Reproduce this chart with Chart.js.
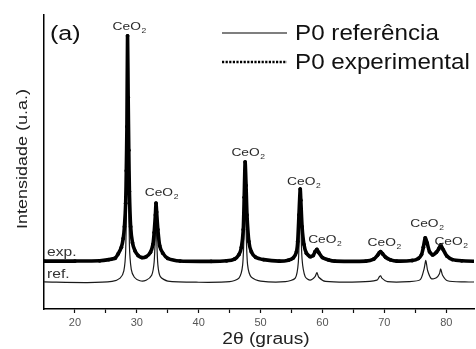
<!DOCTYPE html>
<html><head><meta charset="utf-8">
<script src="https://cdn.jsdelivr.net/npm/chart.js@4/dist/chart.umd.min.js"></script>
<style>html,body{margin:0;padding:0;background:#fff;}canvas{display:block;}</style>
</head><body>
<canvas id="c" width="476" height="349"></canvas>
<script>
// ---- data ----
const expTheta = [15,20,24,25.5,26.5,27,27.5,27.8,28,28.2,28.3,28.4,28.5,28.6,28.7,28.8,29,29.3,29.7,30.2,30.8,31.5,32.2,32.6,32.8,33,33.1,33.2,33.4,33.7,34.2,35,37,42,44.5,45.8,46.5,46.9,47.2,47.35,47.5,47.65,47.8,48.1,48.5,49.2,50.5,53,54.5,55.3,55.8,56,56.2,56.4,56.5,56.7,57,57.4,58,58.5,58.8,59.1,59.4,60,61,62,67,68.3,68.9,69.2,69.4,69.7,70.2,71,72,74.5,75.5,76,76.3,76.6,76.9,77.3,77.8,78.4,78.8,79.1,79.5,80.1,81,82.5,85];
const expInt   = [16.3,16.3,16.4,16.8,17.3,18.8,21,24,28,36,47,62,92.9,72,54,40,28,22.5,19.8,18.2,17.5,17.8,19.3,22,26,32,36,33,27,21.5,19,17.2,16.3,16.2,16.4,17,18.5,21,27,38,50,42,32,23,19.5,17.6,16.8,16.3,16.6,17.4,19.5,23,32,40.8,37,28,22,19,17.8,18.2,19.5,20.3,19.2,17.5,16.7,16.3,16.3,17,18.3,19.2,19.5,18.8,17.6,16.7,16.3,16.5,17.2,18.5,21,24.2,22.5,19.5,18.4,19.3,20.5,21.8,20.2,18,16.8,16.4,16.2];
const refTheta = [15,22,26,27.3,27.9,28.2,28.4,28.5,28.6,28.8,29.1,29.6,30.5,31.5,32.4,32.8,33,33.1,33.2,33.4,33.8,35,40,45,46.5,47.1,47.35,47.5,47.65,47.9,48.5,50,54,55.6,56.1,56.3,56.4,56.5,56.7,57.2,58,58.8,59.1,59.4,60.5,66,68.8,69.2,69.4,69.6,70.5,74,75.8,76.4,76.7,77,77.6,78.4,78.9,79.1,79.4,80.2,83,85];
const refInt   = [9.2,9,9.4,10.5,13,20,50,88,55,22,13.5,10.8,9.6,9.8,11.5,16,26,32,25,15,11,9.5,9.1,9.3,10.5,15,28,45,28,15,10.8,9.5,9.3,10.5,16,30,36,30,17,11,9.8,11,12.4,10.8,9.4,9.2,9.8,11,11.3,10.5,9.3,9.3,10,13.5,16.5,13,10.3,10.6,12,13.6,11.5,9.6,9.2,9.2];
const seriesNames = ['P0 experimental', 'P0 referência'];
const peakTheta = [28.8, 34.0, 48.0, 57.0, 60.4, 70.0, 76.9, 80.8];
const peakLabelInt = [96, 39.5, 53.1, 43.2, 23.5, 22.4, 28.9, 22.8];
const peakPhase = ['CeO','2'];
const majorTicks = [20, 30, 40, 50, 60, 70, 80];
const minorTicks = [25, 35, 45, 55, 65, 75];
const sampleTags = ['exp.', 'ref.'];
const sampleTagTheta = [15.5, 15.5];
const sampleTagInt = [19.4, 11.9];
const panelTag = '(a)';
const xTitle = '2θ (graus)';
const yTitle = 'Intensidade (u.a.)';

const FONT = '"Liberation Sans", Arial, sans-serif';

function sText(ctx, txt, x, y, size, sx, align, color, rot) {
  ctx.save();
  ctx.translate(x, y);
  if (rot) ctx.rotate(rot);
  ctx.scale(sx, 1);
  ctx.font = size + 'px ' + FONT;
  ctx.fillStyle = color;
  ctx.textAlign = align;
  ctx.textBaseline = 'middle';
  ctx.fillText(txt, 0, 0);
  ctx.restore();
}

function subText(ctx, main, sub, cx, cy, size, sx, color) {
  ctx.save();
  ctx.font = size + 'px ' + FONT;
  const w1 = ctx.measureText(main).width;
  ctx.font = (size * 0.62) + 'px ' + FONT;
  const w2 = ctx.measureText(sub).width;
  const total = (w1 + w2 + 0.5) * sx;
  ctx.translate(cx - total / 2, cy);
  ctx.scale(sx, 1);
  ctx.fillStyle = color;
  ctx.textBaseline = 'middle';
  ctx.textAlign = 'left';
  ctx.font = size + 'px ' + FONT;
  ctx.fillText(main, 0, 0);
  ctx.font = (size * 0.62) + 'px ' + FONT;
  ctx.fillText(sub, w1 + 0.5, size * 0.38);
  ctx.restore();
}

const decor = {
  id: 'decor',
  afterDraw(chart) {
    const ctx = chart.ctx, xs = chart.scales.x, ys = chart.scales.y;
    peakTheta.forEach((t, i) => {
      subText(ctx, peakPhase[0], peakPhase[1], xs.getPixelForValue(t), ys.getPixelForValue(peakLabelInt[i]), 11, 1.25, '#2a2a2a');
    });
    sampleTags.forEach((s, i) => {
      sText(ctx, s, xs.getPixelForValue(sampleTagTheta[i]), ys.getPixelForValue(sampleTagInt[i]), 13, 1.2, 'left', '#333', 0);
    });
    sText(ctx, panelTag, 50, 34, 20, 1.25, 'left', '#111', 0);
    sText(ctx, yTitle, 23, 159, 15, 1.2, 'center', '#222', -Math.PI / 2);
    sText(ctx, xTitle, 266, 340, 16, 1.2, 'center', '#222', 0);
    const ds = chart.data.datasets;
    const rows = [{d: ds[1], y: 33}, {d: ds[0], y: 62}];
    rows.forEach(r => {
      ctx.save();
      ctx.strokeStyle = '#000';
      if (r.d.label === seriesNames[0]) {
        ctx.lineWidth = 2.6;
        ctx.setLineDash([2.2, 1.4]);
      } else {
        ctx.lineWidth = 1.2;
      }
      ctx.beginPath();
      ctx.moveTo(222, r.y);
      ctx.lineTo(287, r.y);
      ctx.stroke();
      ctx.restore();
      sText(ctx, r.d.label, 295, r.y + 1, 22, 1.1, 'left', '#111', 0);
    });
  }
};

const expData = expTheta.map((t, i) => ({x: t, y: expInt[i]}));
const refData = refTheta.map((t, i) => ({x: t, y: refInt[i]}));

new Chart(document.getElementById('c'), {
  type: 'line',
  data: {
    datasets: [
      {label: seriesNames[0], data: expData, borderColor: '#000', backgroundColor: '#000', borderWidth: 3.6,
       pointRadius: 1.9, pointHoverRadius: 0, pointBorderWidth: 0, tension: 0.2, order: 0},
      {label: seriesNames[1], data: refData, borderColor: '#1a1a1a', borderWidth: 1.2,
       pointRadius: 0, tension: 0.25, order: 1}
    ]
  },
  options: {
    responsive: false,
    animation: false,
    devicePixelRatio: 1,
    layout: {padding: {left: 44, top: 15, right: 0, bottom: 0}},
    plugins: {legend: {display: false}, tooltip: {enabled: false}},
    scales: {
      x: {
        type: 'linear', min: 15, max: 84.5,
        afterFit(s) { s.height = 40; },
        afterBuildTicks(s) { s.ticks = majorTicks.concat(minorTicks).sort((a, b) => a - b).map(v => ({value: v})); },
        grid: {display: true, drawOnChartArea: false, drawTicks: true, tickLength: 4, tickColor: '#111', tickWidth: 1.2},
        border: {display: true, color: '#000', width: 1.5},
        ticks: {
          padding: 3, color: '#555', font: {size: 11, family: FONT}, maxRotation: 0, autoSkip: false,
          callback: v => majorTicks.includes(v) ? String(v) : ''
        }
      },
      y: {
        type: 'linear', min: 0, max: 100,
        afterFit(s) { s.width = 0; },
        grid: {display: false},
        border: {display: true, color: '#000', width: 1.5},
        ticks: {display: false}
      }
    }
  },
  plugins: [decor]
});
</script>
</body></html>
